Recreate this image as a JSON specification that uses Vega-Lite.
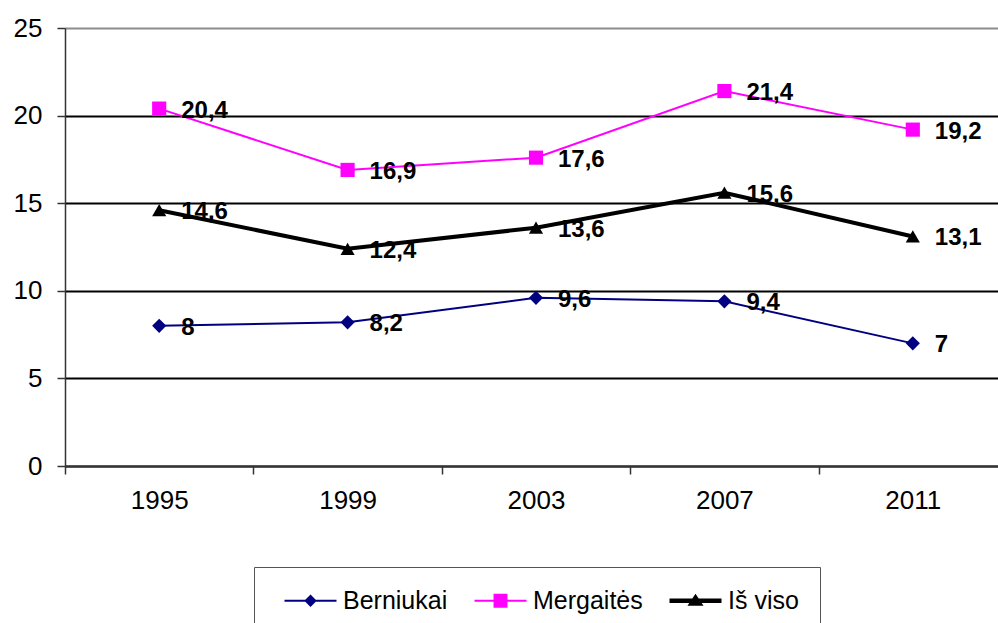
{
  "$schema": "https://vega.github.io/schema/vega-lite/v6.json",
  "autosize": "none",
  "width": 942,
  "height": 438,
  "padding": {"left": 65, "top": 28, "right": 0, "bottom": 157},
  "background": "white",
  "config": {
    "locale": {"number": {"decimal": ",", "thousands": " ", "grouping": [3], "currency": ["", " €"]}},
    "font": "Liberation Sans",
    "view": {"stroke": null}
  },
  "data": {
    "values": [
      {"year": "1995", "series": "Berniukai", "value": 8},
      {"year": "1999", "series": "Berniukai", "value": 8.2},
      {"year": "2003", "series": "Berniukai", "value": 9.6},
      {"year": "2007", "series": "Berniukai", "value": 9.4},
      {"year": "2011", "series": "Berniukai", "value": 7},
      {"year": "1995", "series": "Mergaitės", "value": 20.4},
      {"year": "1999", "series": "Mergaitės", "value": 16.9},
      {"year": "2003", "series": "Mergaitės", "value": 17.6},
      {"year": "2007", "series": "Mergaitės", "value": 21.4},
      {"year": "2011", "series": "Mergaitės", "value": 19.2},
      {"year": "1995", "series": "Iš viso", "value": 14.6},
      {"year": "1999", "series": "Iš viso", "value": 12.4},
      {"year": "2003", "series": "Iš viso", "value": 13.6},
      {"year": "2007", "series": "Iš viso", "value": 15.6},
      {"year": "2011", "series": "Iš viso", "value": 13.1}
    ]
  },
  "encoding": {
    "x": {
      "field": "year", "type": "ordinal",
      "scale": {"paddingInner": 0, "paddingOuter": 0},
      "axis": {
        "title": null, "labelAngle": 0, "labelFontSize": 26, "labelColor": "black",
        "labelPadding": 13, "tickBand": "extent", "tickSize": 8, "tickColor": "#333333",
        "tickWidth": 1.5, "domainColor": "#333333", "domainWidth": 2, "grid": false
      }
    },
    "y": {
      "field": "value", "type": "quantitative",
      "scale": {"domain": [0, 25], "nice": false},
      "axis": {
        "title": null, "values": [0, 5, 10, 15, 20, 25], "labelFontSize": 26, "labelColor": "black",
        "labelPadding": 15, "tickSize": 8, "tickColor": "#333333", "tickWidth": 1.5,
        "domainColor": "#333333", "domainWidth": 1.5,
        "grid": true, "gridWidth": 2,
        "gridColor": {"condition": {"test": "datum.value === 25", "value": "#8c8c8c"}, "value": "black"}
      }
    }
  },
  "layer": [
    {
      "transform": [{"filter": "datum.series === 'Berniukai'"}],
      "mark": {"type": "line", "color": "#000080", "strokeWidth": 2}
    },
    {
      "transform": [{"filter": "datum.series === 'Mergaitės'"}],
      "mark": {"type": "line", "color": "#FF00FF", "strokeWidth": 2}
    },
    {
      "transform": [{"filter": "datum.series === 'Iš viso'"}],
      "mark": {"type": "line", "color": "black", "strokeWidth": 4}
    },
    {
      "mark": {"type": "point", "filled": true, "opacity": 1, "size": 200},
      "encoding": {
        "color": {"field": "series", "type": "nominal",
          "scale": {"domain": ["Berniukai", "Mergaitės", "Iš viso"], "range": ["#000080", "#FF00FF", "black"]},
          "legend": null},
        "shape": {"field": "series", "type": "nominal",
          "scale": {"domain": ["Berniukai", "Mergaitės", "Iš viso"], "range": ["diamond", "square", "triangle-up"]},
          "legend": null}
      }
    },
    {
      "mark": {"type": "text", "align": "left", "baseline": "middle", "dx": 22, "dy": 2,
        "fontSize": 24, "fontWeight": "bold", "color": "black"},
      "encoding": {
        "text": {"field": "value", "type": "quantitative", "format": ".1~f"}
      }
    },
    {
      "mark": {"type": "point", "filled": true, "opacity": 0, "size": 576},
      "encoding": {
        "color": {"field": "series", "type": "nominal",
          "scale": {"domain": ["Berniukai", "Mergaitės", "Iš viso"], "range": ["#000080", "#FF00FF", "black"]},
          "legend": {
            "title": null, "orient": "none", "direction": "horizontal",
            "legendX": 189, "legendY": 539,
            "strokeColor": "#555555", "fillColor": "white", "padding": 21,
            "symbolOpacity": 1, "symbolStrokeWidth": 0, "symbolSize": 576,
            "labelFontSize": 25, "labelColor": "black", "labelOffset": 43,
            "columnPadding": 17
          }},
        "shape": {"field": "series", "type": "nominal",
          "scale": {"domain": ["Berniukai", "Mergaitės", "Iš viso"], "range": [
            "M-0.25,-0.083H4.083V0.083H-0.25Z M1.917,-0.52L2.437,0L1.917,0.52L1.397,0Z",
            "M-0.25,-0.083H4.083V0.083H-0.25Z M1.337,-0.58H2.497V0.58H1.337Z",
            "M-0.25,-0.19H4.083V0.19H-0.25Z M1.917,-0.58L2.587,0.42H1.247Z"
          ]},
          "legend": {
            "title": null, "orient": "none", "direction": "horizontal",
            "legendX": 189, "legendY": 539,
            "strokeColor": "#555555", "fillColor": "white", "padding": 21,
            "symbolOpacity": 1, "symbolStrokeWidth": 0, "symbolSize": 576,
            "labelFontSize": 25, "labelColor": "black", "labelOffset": 43,
            "columnPadding": 17
          }}
      }
    }
  ],
  "resolve": {"scale": {"color": "independent", "shape": "independent"}}
}
